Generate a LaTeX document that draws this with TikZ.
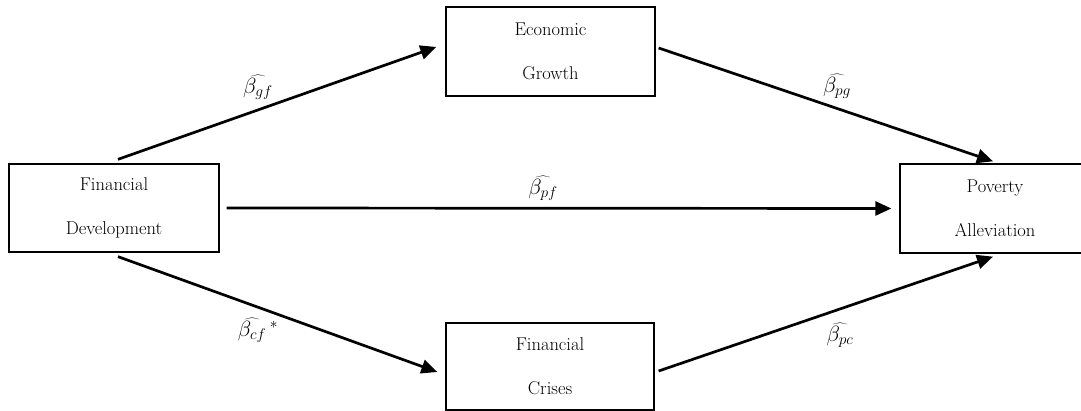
\documentclass[tikz,border=0pt]{standalone}
\usepackage{fix-cm}
\usepackage{fontspec}
\setmainfont{Latin Modern Roman}
\usetikzlibrary{arrows.meta}
\begin{document}
\begin{tikzpicture}[x=1pt,y=1pt,
  boxnode/.style={draw,line width=1.3pt,inner sep=0pt,align=center,
    font=\fontsize{18.5}{44}\selectfont},
  conn/.style={line width=2.7pt,-{Triangle[length=16pt,width=14pt]}},
  coef/.style={font=\fontsize{22}{24}\selectfont,inner sep=0pt}]
\useasboundingbox (0,0) rectangle (1081,411);
\node[boxnode,minimum width=210pt,minimum height=88pt] (fd) at (114,203) {Financial\\Development};
\node[boxnode,minimum width=209pt,minimum height=89pt] (eg) at (550.5,359.5) {Economic\\Growth};
\node[boxnode,minimum width=190pt,minimum height=89pt] (pa) at (995,202.5) {Poverty\\Alleviation};
\node[boxnode,minimum width=208pt,minimum height=87pt] (fc) at (550,44.5) {Financial\\Crises};
\draw[conn] ([shift={(4,4)}]fd.north) -- ([shift={(-9,4.5)}]eg.west);
\draw[conn] ([shift={(3,3.5)}]eg.east) -- ([shift={(-2,2)}]pa.north);
\draw[conn] ([xshift=7]fd.east) -- ([xshift=-8]pa.west);
\draw[conn] ([shift={(4,-4)}]fd.south) -- ([shift={(-8,-5.5)}]fc.west);
\draw[conn] ([shift={(4,-4.5)}]fc.east) -- ([shift={(-2,-3)}]pa.south);
\node[coef] (lgf) at (258,324) {$\widehat{\beta_{gf}}$};
\node[coef] (lpg) at (837,325) {$\widehat{\beta_{pg}}$};
\node[coef] (lpf) at (543,223) {$\widehat{\beta_{pf}}$};
\node[coef] (lcf) at (258,81) {$\widehat{\beta_{cf}}\,{}^{*}$};
\node[coef] (lpc) at (840,76) {$\widehat{\beta_{pc}}$};
\end{tikzpicture}
\end{document}
